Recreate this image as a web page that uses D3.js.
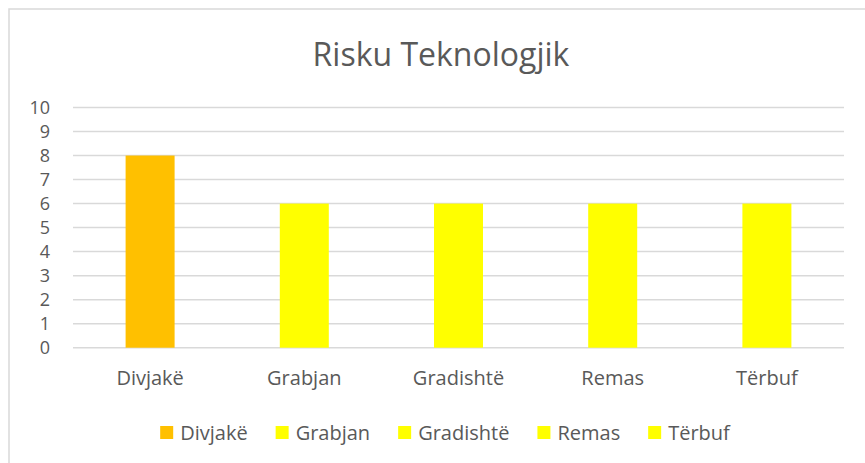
<!DOCTYPE html>
<html>
<head>
<meta charset="utf-8">
<script src="https://cdnjs.cloudflare.com/ajax/libs/d3/7.8.5/d3.min.js"></script>
<style>
  body { margin: 0; background: #fff; }
  svg text { font-family: "Open Sans", Lato, sans-serif; fill: #595959; }
</style>
</head>
<body>
<div id="chart"></div>
<script>
// data
var categories = ["Divjakë", "Grabjan", "Gradishtë", "Remas", "Tërbuf"];
var values = [8, 6, 6, 6, 6];
var barColors = ["#FFC000", "#FFFF00", "#FFFF00", "#FFFF00", "#FFFF00"];
var yTicks = [0, 1, 2, 3, 4, 5, 6, 7, 8, 9, 10];
var title = "Risku Teknologjik";

var svgWidth = 865;
var svgHeight = 463;

var svg = d3.select("#chart")
  .append("svg")
  .attr("width", svgWidth)
  .attr("height", svgHeight);

// chart frame (cut off on right and bottom like the screenshot)
svg.append("rect")
  .attr("x", 9)
  .attr("y", 9)
  .attr("width", 900)
  .attr("height", 500)
  .attr("fill", "none")
  .attr("stroke", "#d9d9d9")
  .attr("stroke-width", 1.5);

var plotLeft = 73, plotRight = 844, plotTop = 107.5, plotBottom = 347.7;

var x = d3.scaleBand()
  .domain(categories)
  .range([plotLeft, plotRight])
  .padding(0);

var y = d3.scaleLinear()
  .domain([0, 10])
  .range([plotBottom, plotTop]);

// title
svg.append("text")
  .attr("x", 441)
  .attr("y", 66)
  .attr("text-anchor", "middle")
  .style("font-size", "32px")
  .text(title);

// gridlines
svg.append("g")
  .selectAll("line")
  .data(yTicks)
  .enter()
  .append("line")
  .attr("x1", plotLeft)
  .attr("x2", plotRight)
  .attr("y1", function(d) { return y(d); })
  .attr("y2", function(d) { return y(d); })
  .attr("stroke", "#d9d9d9")
  .attr("stroke-width", 1.5);

// y axis labels
var yAxis = d3.axisLeft(y).tickValues(yTicks).tickSize(0).tickPadding(0);
var yg = svg.append("g")
  .attr("transform", "translate(50,0)")
  .call(yAxis);
yg.select(".domain").remove();
yg.selectAll("text")
  .style("font-size", "18px")
  .attr("fill", "#595959")
  .style("font-family", "'Open Sans', Lato, sans-serif");

// bars
var barWidth = 49;
svg.append("g")
  .selectAll("rect")
  .data(values)
  .enter()
  .append("rect")
  .attr("x", function(d, i) { return x(categories[i]) + x.bandwidth() / 2 - barWidth / 2; })
  .attr("y", function(d) { return y(d); })
  .attr("width", barWidth)
  .attr("height", function(d) { return plotBottom - y(d); })
  .attr("fill", function(d, i) { return barColors[i]; });

// x axis labels
var xAxis = d3.axisBottom(x).tickSize(0).tickPadding(0);
var xg = svg.append("g")
  .attr("transform", "translate(0," + (plotBottom + 23) + ")")
  .call(xAxis);
xg.select(".domain").remove();
xg.selectAll("text")
  .style("font-size", "20px")
  .attr("fill", "#595959")
  .style("font-family", "'Open Sans', Lato, sans-serif");

// legend
var legend = svg.append("g");
var items = legend.selectAll("g")
  .data(categories)
  .enter()
  .append("g");
items.append("rect")
  .attr("width", 13)
  .attr("height", 13)
  .attr("y", 426)
  .attr("fill", function(d, i) { return barColors[i]; });
items.append("text")
  .attr("y", 439.5)
  .attr("x", 20)
  .style("font-size", "20px")
  .text(function(d) { return d; });

var pos = 0;
var widths = [];
items.each(function() {
  var w = d3.select(this).select("text").node().getComputedTextLength();
  widths.push(20 + w);
});
var gap = 28;
var total = d3.sum(widths) + gap * (widths.length - 1);
var startX = 160 + (570 - total) / 2;
items.attr("transform", function(d, i) {
  var tx = startX + pos;
  pos += widths[i] + gap;
  return "translate(" + tx + ",0)";
});
</script>
</body>
</html>
